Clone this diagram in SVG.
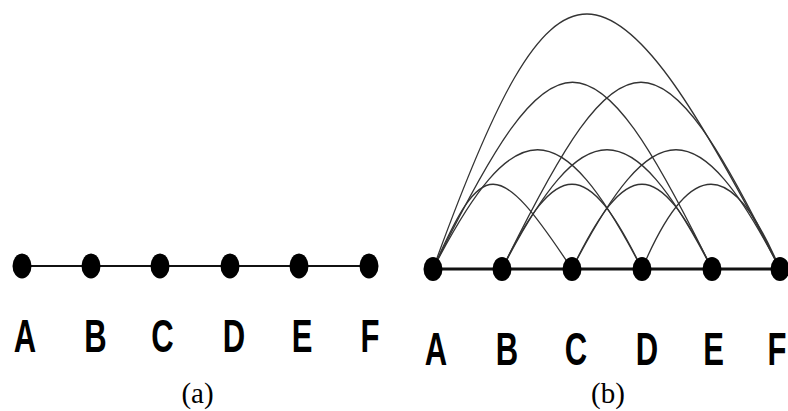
<svg xmlns="http://www.w3.org/2000/svg" width="788" height="411" viewBox="0 0 788 411">
<style>
.bg{fill:#fff}
.node{fill:#000}
.lbl{font-family:"Liberation Sans",Arial,sans-serif;font-weight:bold;font-size:47px;fill:#000;text-anchor:middle}
.cap{font-family:"Liberation Serif","Times New Roman",serif;font-size:29px;fill:#000;text-anchor:middle}
.arc{fill:none;stroke:#333;stroke-width:1.3}
.base1{stroke:#111;stroke-width:1.8}
.base2{stroke:#111;stroke-width:3}
</style>
<rect class="bg" x="0" y="0" width="788" height="411"/>
<g id="connectors">
<line class="base1" x1="22" y1="266" x2="369" y2="266"/>
<line class="base2" x1="433" y1="269" x2="780" y2="269"/>
<path class="arc" d="M433,269 C483,156 497,156 572,269"/>
<path class="arc" d="M502,269 C557,156 587,156 642,269"/>
<path class="arc" d="M572,269 C627,156 657,156 712,269"/>
<path class="arc" d="M642,269 C690,156 732,156 780,269"/>
<path class="arc" d="M433,269 C515,110 560,110 642,269"/>
<path class="arc" d="M502,269 C584,110 630,110 712,269"/>
<path class="arc" d="M572,269 C654,110 698,110 780,269"/>
<path class="arc" d="M433,269 C555,20 590,20 712,269"/>
<path class="arc" d="M502,269 C624,20 658,20 780,269"/>
<path class="arc" d="M433,269 C556,-71 605,-71 780,269"/>
</g>
<g id="a-A"><ellipse class="node" cx="22" cy="266" rx="9.5" ry="12.5"/><text class="lbl" transform="translate(25,352) scale(0.66,1)">A</text></g>
<g id="a-B"><ellipse class="node" cx="91" cy="266" rx="9.5" ry="12.5"/><text class="lbl" transform="translate(95.5,352) scale(0.66,1)">B</text></g>
<g id="a-C"><ellipse class="node" cx="160" cy="266" rx="9.5" ry="12.5"/><text class="lbl" transform="translate(162.5,352) scale(0.66,1)">C</text></g>
<g id="a-D"><ellipse class="node" cx="230" cy="266" rx="9.5" ry="12.5"/><text class="lbl" transform="translate(234,352) scale(0.66,1)">D</text></g>
<g id="a-E"><ellipse class="node" cx="299" cy="266" rx="9.5" ry="12.5"/><text class="lbl" transform="translate(302,352) scale(0.66,1)">E</text></g>
<g id="a-F"><ellipse class="node" cx="369" cy="266" rx="9.5" ry="12.5"/><text class="lbl" transform="translate(370,352) scale(0.66,1)">F</text></g>
<g id="b-A"><ellipse class="node" cx="433" cy="269" rx="9.5" ry="12"/><text class="lbl" transform="translate(436,365) scale(0.66,1)">A</text></g>
<g id="b-B"><ellipse class="node" cx="502" cy="269" rx="9.5" ry="12"/><text class="lbl" transform="translate(507,365) scale(0.66,1)">B</text></g>
<g id="b-C"><ellipse class="node" cx="572" cy="269" rx="9.5" ry="12"/><text class="lbl" transform="translate(576,365) scale(0.66,1)">C</text></g>
<g id="b-D"><ellipse class="node" cx="642" cy="269" rx="9.5" ry="12"/><text class="lbl" transform="translate(647,365) scale(0.66,1)">D</text></g>
<g id="b-E"><ellipse class="node" cx="712" cy="269" rx="9.5" ry="12"/><text class="lbl" transform="translate(713.5,365) scale(0.66,1)">E</text></g>
<g id="b-F"><ellipse class="node" cx="780" cy="269" rx="9.5" ry="12"/><text class="lbl" transform="translate(777,365) scale(0.66,1)">F</text></g>
<g id="caption-a"><text class="cap" x="197.5" y="403">(a)</text></g>
<g id="caption-b"><text class="cap" x="608" y="403">(b)</text></g>
</svg>
